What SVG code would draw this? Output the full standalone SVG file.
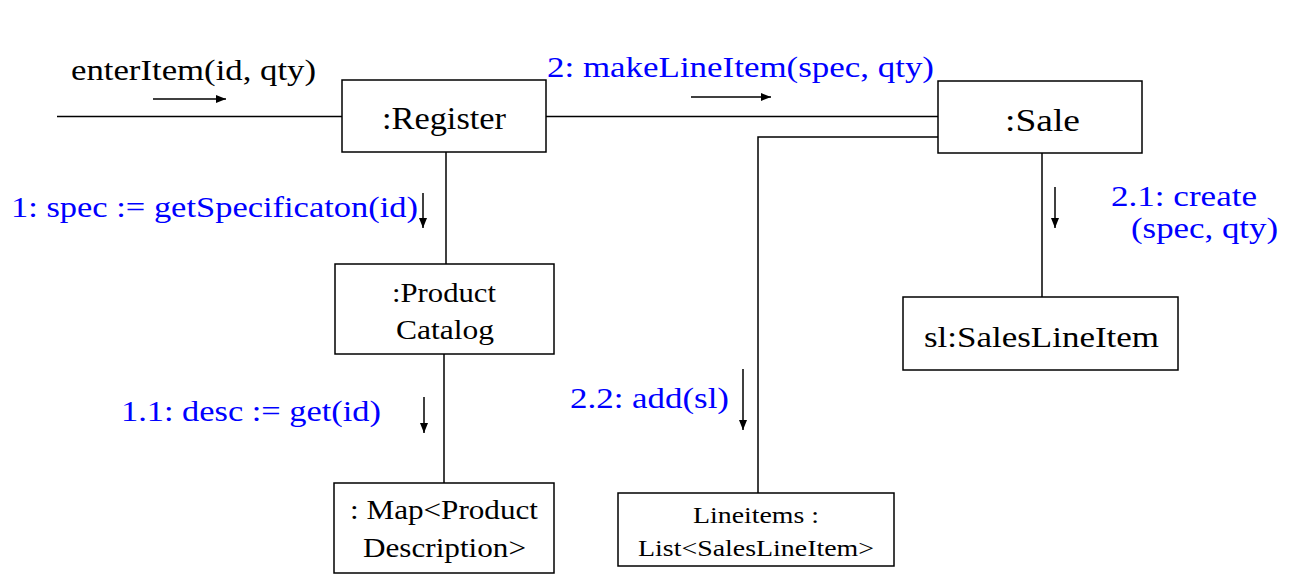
<svg xmlns="http://www.w3.org/2000/svg" width="1316" height="588" viewBox="0 0 1316 588">
<defs>
<marker id="ah" viewBox="0 0 10 8" refX="10" refY="4" markerWidth="10" markerHeight="8" markerUnits="userSpaceOnUse" orient="auto">
<path d="M0,0 L10,4 L0,8 z" fill="#000"/>
</marker>
</defs>
<style>
.box{fill:#fff;stroke:#000;stroke-width:1.5}
.ln{fill:none;stroke:#000;stroke-width:1.5}
.ar{fill:none;stroke:#000;stroke-width:1.5;marker-end:url(#ah)}
text{font-family:'Liberation Serif','Times New Roman',serif}
.t{fill:#000}
.b{fill:#0000ff}
</style>
<rect width="1316" height="588" fill="#fff"/>
<g id="connectors">
<line class="ln" x1="57" y1="116.5" x2="342" y2="116.5"/>
<line class="ln" x1="546" y1="116.5" x2="938" y2="116.5"/>
<polyline class="ln" points="941,137 758,137 758,493"/>
<line class="ln" x1="446" y1="152" x2="446" y2="264"/>
<line class="ln" x1="444" y1="354" x2="444" y2="483"/>
<line class="ln" x1="1042" y1="153" x2="1042" y2="297"/>
<line class="ar" x1="153" y1="99" x2="226" y2="99"/>
<line class="ar" x1="691" y1="97" x2="771" y2="97"/>
<line class="ar" x1="423" y1="193" x2="423" y2="228"/>
<line class="ar" x1="424" y1="397" x2="424" y2="433"/>
<line class="ar" x1="743" y1="369" x2="743" y2="430"/>
<line class="ar" x1="1055" y1="187" x2="1055" y2="228"/>
<text class="t" x="71" y="80" font-size="30" textLength="245" lengthAdjust="spacingAndGlyphs">enterItem(id, qty)</text>
<text class="b" x="547" y="77" font-size="29" textLength="387" lengthAdjust="spacingAndGlyphs">2: makeLineItem(spec, qty)</text>
<text class="b" x="11" y="217" font-size="29" textLength="407" lengthAdjust="spacingAndGlyphs">1: spec := getSpecificaton(id)</text>
<text class="b" x="121" y="421" font-size="29" textLength="260" lengthAdjust="spacingAndGlyphs">1.1: desc := get(id)</text>
<text class="b" x="570" y="408" font-size="29" textLength="159" lengthAdjust="spacingAndGlyphs">2.2: add(sl)</text>
<text class="b" x="1111" y="206" font-size="29" textLength="146" lengthAdjust="spacingAndGlyphs">2.1: create</text>
<text class="b" x="1131" y="238" font-size="29" textLength="147" lengthAdjust="spacingAndGlyphs">(spec, qty)</text>
</g>
<g id="register">
<rect class="box" x="342" y="80" width="204" height="72"/>
<text class="t" x="382" y="129" font-size="31" textLength="124" lengthAdjust="spacingAndGlyphs">:Register</text>
</g>
<g id="sale">
<rect class="box" x="938" y="81" width="204" height="72"/>
<text class="t" x="1005" y="131" font-size="31" textLength="75" lengthAdjust="spacingAndGlyphs">:Sale</text>
</g>
<g id="productCatalog">
<rect class="box" x="335" y="264" width="219" height="90"/>
<text class="t" x="392" y="302" font-size="27" textLength="104" lengthAdjust="spacingAndGlyphs">:Product</text>
<text class="t" x="396" y="339" font-size="27" textLength="98" lengthAdjust="spacingAndGlyphs">Catalog</text>
</g>
<g id="map">
<rect class="box" x="334" y="483" width="220" height="90"/>
<text class="t" x="350" y="519" font-size="27" textLength="188" lengthAdjust="spacingAndGlyphs">:  Map&lt;Product</text>
<text class="t" x="363" y="557" font-size="27" textLength="163" lengthAdjust="spacingAndGlyphs">Description&gt;</text>
</g>
<g id="salesLineItem">
<rect class="box" x="903" y="297" width="275" height="73"/>
<text class="t" x="924" y="347" font-size="30" textLength="235" lengthAdjust="spacingAndGlyphs">sl:SalesLineItem</text>
</g>
<g id="lineItems">
<rect class="box" x="618" y="493" width="276" height="73"/>
<text class="t" x="693" y="523" font-size="24" textLength="126" lengthAdjust="spacingAndGlyphs">Lineitems :</text>
<text class="t" x="638" y="556" font-size="24" textLength="236" lengthAdjust="spacingAndGlyphs">List&lt;SalesLineItem&gt;</text>
</g>
</svg>
